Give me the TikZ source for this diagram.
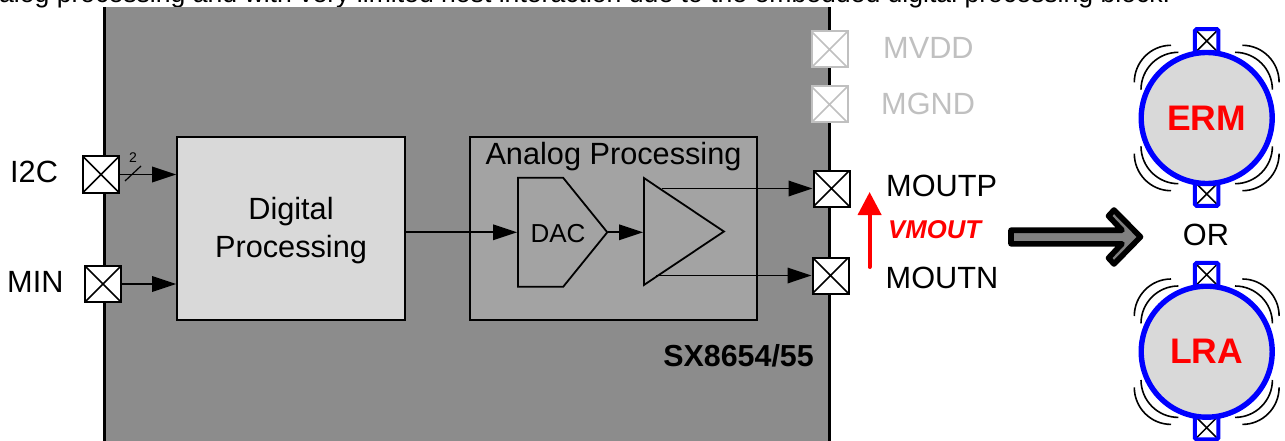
\documentclass[tikz,border=0pt]{standalone}
\usepackage{fontspec}
\setmainfont{Liberation Sans}
\usepackage{tikz}
\usetikzlibrary{shapes,arrows.meta}
\usepackage{xcolor}
\definecolor{chipgray}{HTML}{8C8C8C}
\definecolor{analoggray}{HTML}{A3A3A3}
\definecolor{blockgray}{HTML}{D9D9D9}
\definecolor{padgray}{HTML}{C0C0C0}
\tikzset{
    txt/.style={font=\fontsize{30.7}{38}\selectfont, inner sep=0pt},
    block/.style={draw, line width=1.8pt, inner sep=0pt},
    sig/.style={line width=1.8pt, -{Triangle[length=24pt,width=15.5pt]}},
    pad/.style={draw=#1, fill=white, line width=2pt, minimum size=36pt, inner sep=0pt,
        path picture={\draw[#1, line width=1.6pt] (path picture bounding box.north west) -- (path picture bounding box.south east)
            (path picture bounding box.north east) -- (path picture bounding box.south west);}},
    pad/.default=black,
    term/.style={draw=blue, fill=white, line width=4pt, rounded corners=1.5pt, minimum size=23.5pt, inner sep=0pt,
        path picture={\draw[black, line width=1.5pt] (path picture bounding box.north west) -- (path picture bounding box.south east)
            (path picture bounding box.north east) -- (path picture bounding box.south west);}},
    motor/.style={circle, draw=blue, fill=blockgray, line width=5.4pt, minimum size=131pt, inner sep=0pt,
        text=red, font=\fontsize{35.5}{40}\selectfont\bfseries},
    shake/.style={line width=1.6pt}
}
\begin{document}
\begin{tikzpicture}[x=1pt, y=-1pt]
    \clip (0,0) rectangle (1285,441);

    % Text cut off at the top
    \node[anchor=base west, inner sep=0pt, font=\fontsize{26.6}{30}\selectfont] (topline) at (-1,2.5)
        {alog processing and with very limited host interaction due to the embedded digital processing block.};

    % Chip body
    \fill[chipgray] (104,7) rectangle (830,445);
    \draw[line width=3pt] (104,7) -- (104,445);
    \draw[line width=3pt] (829.5,7) -- (829.5,445);
    \node[anchor=east, inner sep=0pt, font=\fontsize{30.4}{34}\selectfont\bfseries] (partno) at (814,356) {SX8654/55};

    % Blocks
    \node[block, fill=blockgray, minimum width=228pt, minimum height=183pt] (digital) at (291,228.5) {};
    \node[txt, align=center] (digitaltxt) at (291,230.5) {Digital\\Processing};
    \node[block, fill=analoggray, minimum width=287pt, minimum height=183pt] (analog) at (613.5,228.5) {};
    \node[txt] (analogtxt) at (613.5,157) {Analog Processing};
    \node[block, signal, signal to=east, signal pointer angle=102, minimum width=89.4pt, minimum height=109pt, anchor=west] (dac) at (517,232.3) {};
    \node[inner sep=0pt, font=\fontsize{26}{30}\selectfont] (dactxt) at (558,234) {DAC};
    \node[block, isosceles triangle, isosceles triangle stretches, minimum width=107pt, minimum height=80pt, anchor=lower side] (amp) at (643,231.5) {};

    % Pads
    \node[pad] (i2c) at (101,174.5) {};
    \node[pad] (min) at (103,284) {};
    \node[pad=padgray] (mvdd) at (829.5,49.5) {};
    \node[pad=padgray] (mgnd) at (829.5,104.5) {};
    \node[pad] (moutp) at (831.5,188.5) {};
    \node[pad] (moutn) at (830.5,275.5) {};

    % Pad names
    \node[txt, anchor=west] (i2ctxt) at (10,172) {I2C};
    \node[txt, anchor=west] (mintxt) at (7,282) {MIN};
    \node[txt, anchor=west, text=padgray] (mvddtxt) at (883,48) {MVDD};
    \node[txt, anchor=west, text=padgray] (mgndtxt) at (881,104) {MGND};
    \node[txt, anchor=west] (mouttxtp) at (886,186) {MOUTP};
    \node[txt, anchor=west] (mouttxtn) at (885.5,278) {MOUTN};

    % Signals
    \coordinate (ampP) at (662,188.5);
    \coordinate (ampN) at (656,275.5);
    \draw[sig] (i2c.east) -- (digital.west |- i2c.east);
    \draw[sig] (min.east) -- (digital.west |- min.east);
    \draw[sig] (digital.east |- dac.west) -- (dac.west);
    \draw[sig] (dac.east) -- (amp.lower side |- dac.east);
    \draw[sig] (ampP) -- (moutp.west);
    \draw[sig] (ampN) -- (moutn.west);

    % Bus mark
    \draw[line width=1.2pt] (125,181) -- (141,166);
    \node[inner sep=0pt, font=\fontsize{14}{16}\selectfont] (busw) at (133,157.5) {2};

    % Output voltage
    \coordinate (vlow) at (869.6,267);
    \coordinate (vhigh) at (869.6,192);
    \draw[red, line width=4pt, line cap=round, -{Triangle[length=23pt,width=23pt]}] (vlow) -- (vhigh);
    \node[inner sep=0pt, anchor=west, text=red, font=\fontsize{25.7}{30}\selectfont\bfseries\itshape] (vmout) at (888,230) {VMOUT};

    % Big arrow
    \draw[fill=gray, line width=5.6pt, line join=round] (1011,230.2) -- (1122,230.2) -- (1108.5,216) -- (1114,210)
        -- (1140.5,236.9) -- (1114,264) -- (1108.5,258) -- (1122,243.8) -- (1011,243.8) -- cycle;
    \node[txt] (ortxt) at (1206,235) {OR};

    % Motors
    \foreach \cy/\kind in {118/ERM, 351.7/LRA} {
        \node[term] (top\kind) at (1206.7,\cy-77) {};
        \node[term] (bot\kind) at (1206.7,\cy+76) {};
        \node[motor] (\kind) at (1206.7,\cy) {\kind};
        \foreach \sx in {-1,1} {
            \foreach \sy in {-1,1} {
                \begin{scope}[shift={(1206.7,\cy)}, xscale=\sx, yscale=\sy]
                    \draw[shake] (-28.3,-65.7) .. controls (-48.9,-65.7) and (-65.7,-49) .. (-65.7,-28.3);
                    \draw[shake] (-35.7,-72.7) .. controls (-56,-72.7) and (-72.4,-56) .. (-72.4,-35.7);
                \end{scope}
            }
        }
    }
\end{tikzpicture}
\end{document}
